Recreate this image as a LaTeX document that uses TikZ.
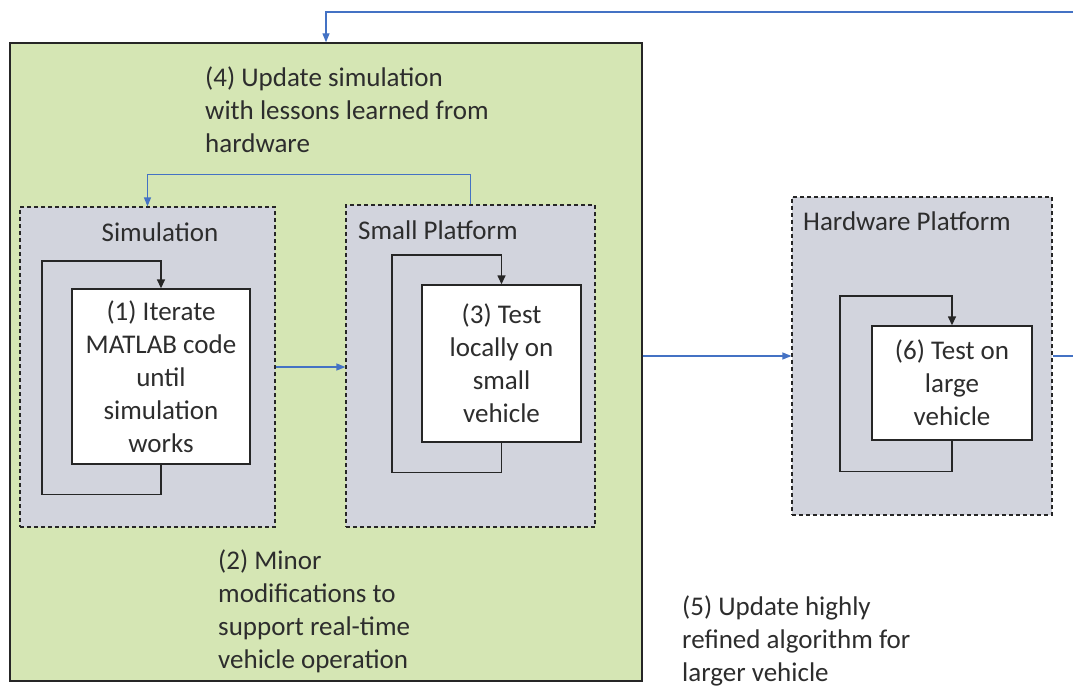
\documentclass[tikz,border=0pt]{standalone}
\usepackage{fontspec}
\setmainfont{Carlito}
\usetikzlibrary{arrows.meta}
\definecolor{stagegreen}{RGB}{213,230,180}
\definecolor{platgray}{RGB}{210,212,221}
\definecolor{flowblue}{RGB}{68,114,196}
\definecolor{inktext}{RGB}{45,45,45}
\tikzset{
  x=1pt, y=-1pt,
  txt/.style={font=\fontsize{27}{33}\selectfont, text=inktext, inner sep=0pt},
  platform/.style={draw=black!85, dashed, dash pattern=on 4pt off 3pt, line width=1.2pt, fill=platgray},
  taskbox/.style={draw=black!85, line width=1.4pt, fill=white, txt, align=center},
  loopline/.style={draw=black!85, line width=1.5pt, -{Triangle[length=9pt,width=8pt]}},
  flow/.style={draw=flowblue, line width=1.3pt, -{Triangle[length=9pt,width=7pt]}},
  flowplain/.style={draw=flowblue, line width=1.3pt},
}
\begin{document}
\begin{tikzpicture}
\useasboundingbox (0,0) rectangle (1073,687);

% outer simulation-and-small-platform stage
\node[draw=black!85, line width=1.4pt, fill=stagegreen, minimum width=632pt, minimum height=638pt, inner sep=0pt] (stage) at (326,362) {};

% platforms
\node[platform, minimum width=255pt, minimum height=320pt, inner sep=0pt] (sim) at (147.5,367) {};
\node[platform, minimum width=249pt, minimum height=322pt, inner sep=0pt] (small) at (470.5,366) {};
\node[platform, minimum width=260pt, minimum height=318pt, inner sep=0pt] (hw) at (922,356) {};

\node[txt, anchor=center] (simlbl) at (160,232) {Simulation};
\node[txt, anchor=west] (smalllbl) at (358,230) {Small Platform};
\node[txt, anchor=west] (hwlbl) at (803,221) {Hardware Platform};

% task boxes
\node[taskbox, minimum width=178pt, minimum height=175pt] (t1) at (161,376.5) {(1) Iterate\\MATLAB code\\until\\simulation\\works};
\node[taskbox, minimum width=159pt, minimum height=157pt] (t3) at (501.5,363.5) {(3) Test\\locally on\\small\\vehicle};
\node[taskbox, minimum width=160pt, minimum height=114pt] (t6) at (952,383) {(6) Test on\\large\\vehicle};

% iteration loops
\draw[loopline] (t1.south) -- ++(0,30) -| (42,261) -| (t1.north);
\draw[loopline] (t3.south) -- ++(0,30) -| (392,255) -| (t3.north);
\draw[loopline] (t6.south) -- ++(0,31) -| (840,296) -| (t6.north);

% free labels
\node[txt, anchor=west, align=left] (l4) at (205,110) {(4) Update simulation\\with lessons learned from\\hardware};
\node[txt, anchor=west, align=left] (l2) at (218,611.5) {(2) Minor\\modifications to\\support real-time\\vehicle operation};
\node[txt, anchor=west, align=left] (l5) at (682,641) {(5) Update highly\\refined algorithm for\\larger vehicle};

% flow between stages
\coordinate (outR) at (1073,356);
\coordinate (backR) at (1073,12);
\draw[flow] (sim.east) -- (sim.east -| small.west);
\draw[flow] (hw.west -| stage.east) -- (hw.west);
\draw[flowplain] (hw.east) -- (outR);
\draw[flow] (backR) -| (stage.north);
\draw[flow] (small.north) -- ++(0,-30) -| (sim.north);
\end{tikzpicture}
\end{document}
